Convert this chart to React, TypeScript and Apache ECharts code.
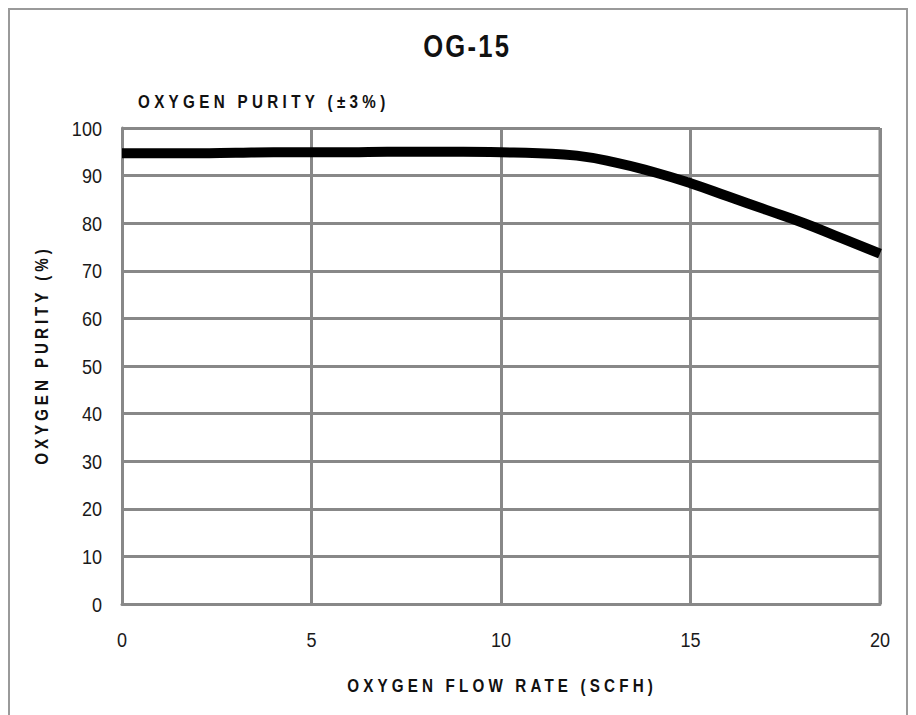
import React, { useEffect, useRef } from "react";
import * as echarts from "echarts";

const flowRate = [0, 1, 2, 3, 4, 5, 6, 7, 8, 9, 10, 11, 12, 13, 14, 15, 16, 17, 18, 19, 20];
const purity = [94.7, 94.7, 94.7, 94.8, 94.9, 94.9, 94.9, 95, 95, 95, 94.9, 94.7, 94.2, 92.8, 90.8, 88.4, 85.6, 82.8, 80, 76.8, 73.6];

const titleText = "OG-15";
const subtitleText = "OXYGEN PURITY (\u00b13%)";
const xAxisName = "OXYGEN FLOW RATE (SCFH)";
const yAxisName = "OXYGEN PURITY (%)";

const FONT = '"Liberation Sans", Arial, sans-serif';
const GRID_COLOR = "#888888";
const NARROW = 0.8;
const TICK_NARROW = 0.86;

const spaced: { text: string; size: number; target: number }[] = [
  { text: titleText, size: 32, target: 88 },
  { text: subtitleText, size: 19, target: 252 },
  { text: xAxisName, size: 19, target: 310 },
  { text: yAxisName, size: 19, target: 220 },
];

export default function App() {
  const ref = useRef<HTMLDivElement>(null);
  useEffect(() => {
    if (!ref.current) return;
    const chart = echarts.init(ref.current, null, { renderer: "svg" });
    const data = flowRate.map((x, i) => [x, purity[i]]);
    const boldText = (text: string, size: number, x: number, y: number, align: string, rotation = 0) => ({
      type: "text",
      x,
      y,
      rotation,
      scaleX: NARROW,
      silent: true,
      style: {
        text,
        font: `bold ${size}px ${FONT}`,
        fill: "#111",
        textAlign: align,
        textVerticalAlign: "middle",
      },
    });
    chart.setOption({
      animation: false,
      grid: { left: 112, top: 118, width: 758, height: 476 },
      xAxis: {
        type: "value",
        min: 0,
        max: 20,
        interval: 5,
        axisLine: { lineStyle: { color: GRID_COLOR, width: 3 } },
        axisTick: { show: false },
        axisLabel: { margin: 25, fontFamily: FONT, fontSize: 21, color: "#1a1a1a" },
        splitLine: { show: true, lineStyle: { color: GRID_COLOR, width: 3 } },
      },
      yAxis: {
        type: "value",
        min: 0,
        max: 100,
        interval: 10,
        axisLine: { show: true, lineStyle: { color: GRID_COLOR, width: 3 } },
        axisTick: { show: false },
        axisLabel: { margin: 20, fontFamily: FONT, fontSize: 21, color: "#1a1a1a" },
        splitLine: { show: true, lineStyle: { color: GRID_COLOR, width: 3 } },
      },
      graphic: [
        { type: "rect", silent: true, shape: { x: 112 + 758 - 1.5, y: 118, width: 3, height: 476 }, style: { fill: GRID_COLOR } },
        boldText(titleText, 32, 456, 36, "center"),
        boldText(subtitleText, 19, 128, 91, "left"),
        boldText(xAxisName, 19, 490, 675, "center"),
        boldText(yAxisName, 19, 31, 347, "center", Math.PI / 2),
      ],
      series: [
        {
          type: "line",
          data,
          smooth: 0.5,
          symbol: "none",
          silent: true,
          lineStyle: { color: "#000", width: 10 },
        },
      ],
    });

    const canvas = document.createElement("canvas");
    const ctx = canvas.getContext("2d");
    const texts = ref.current.querySelectorAll("text");
    texts.forEach((t) => {
      const content = t.textContent || "";
      const s = spaced.find((d) => d.text === content);
      if (s && ctx) {
        ctx.font = `bold ${s.size}px ${FONT}`;
        const w = ctx.measureText(s.text).width;
        const ls = Math.max(0, (s.target / NARROW - w) / s.text.length);
        t.style.letterSpacing = `${ls.toFixed(2)}px`;
        if (t.getAttribute("text-anchor") === "middle") {
          const xAttr = parseFloat(t.getAttribute("x") || "0");
          t.setAttribute("x", String(xAttr + ls / 2));
        }
      } else if (/^\d+$/.test(content)) {
        const x = parseFloat(t.getAttribute("x") || "0");
        const y = parseFloat(t.getAttribute("y") || "0");
        const tr = t.getAttribute("transform") || "";
        t.setAttribute(
          "transform",
          `${tr} translate(${x} ${y}) scale(${TICK_NARROW} 1) translate(${-x} ${-y})`.trim()
        );
      }
    });
    return () => chart.dispose();
  }, []);
  return (
    <div
      style={{
        width: 900,
        height: 707,
        boxSizing: "border-box",
        borderTop: "2px solid #9a9a9a",
        borderLeft: "2px solid #9a9a9a",
        borderRight: "2px solid #9a9a9a",
        background: "#fff",
      }}
    >
      <div ref={ref} style={{ width: 896, height: 705 }} />
    </div>
  );
}
